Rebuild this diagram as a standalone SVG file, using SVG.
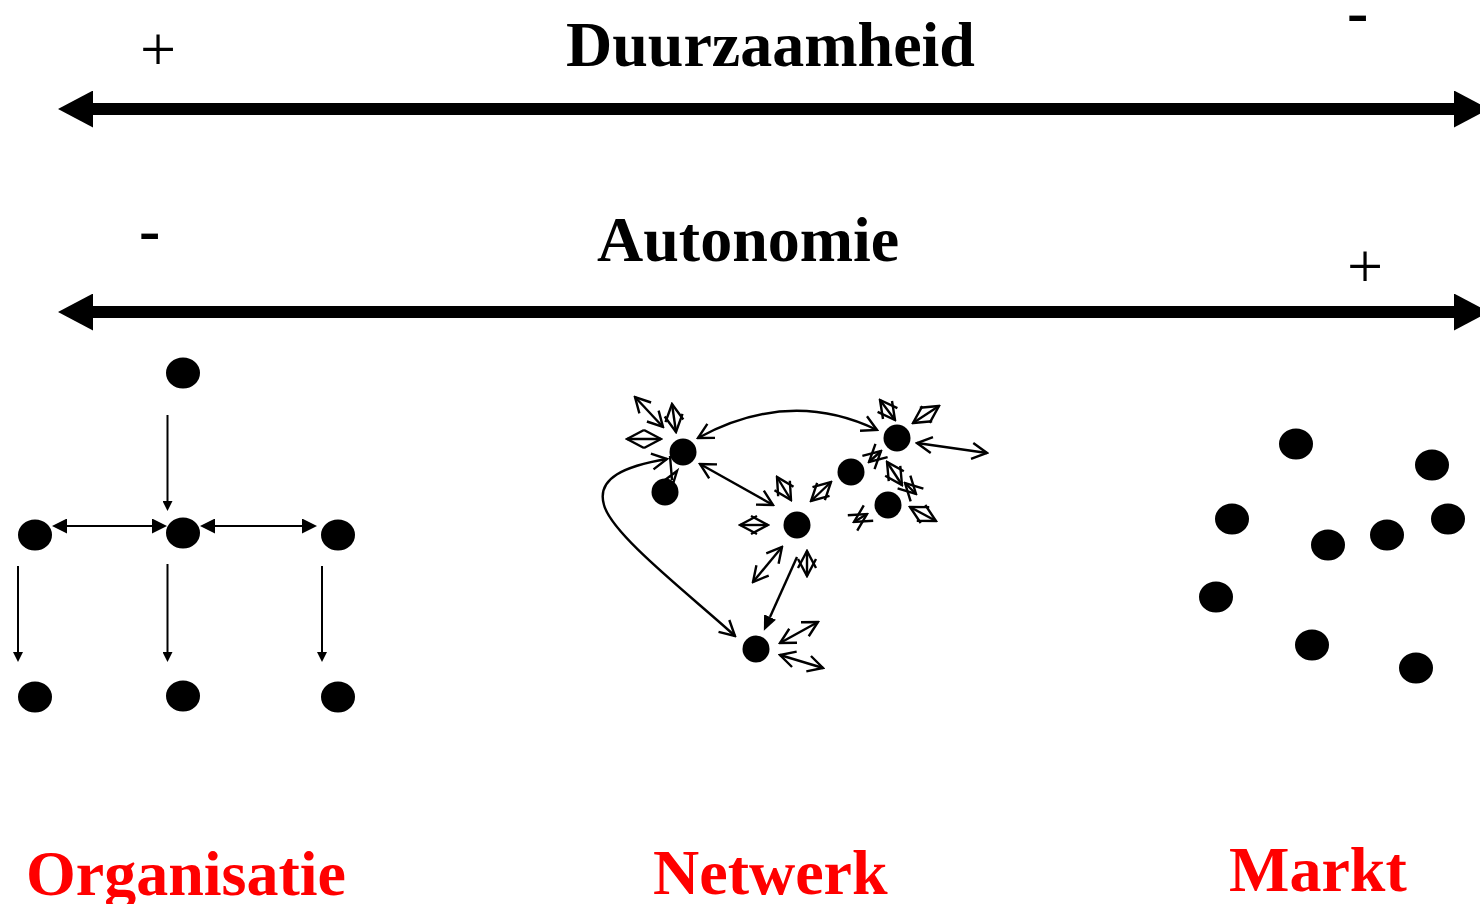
<svg xmlns="http://www.w3.org/2000/svg" width="1480" height="904" viewBox="0 0 1480 904">
<style>
.t{font-family:"Liberation Serif","Times New Roman",serif;font-size:64px;fill:#000}
.b{font-weight:bold}
.red{fill:#FF0000}
.nd{fill:#000}
.axis{stroke:#000;stroke-width:12;fill:none}
.oc{stroke:#000;stroke-width:2;fill:none}
.nc{stroke:#000;stroke-width:2.4;fill:none}
</style>
<defs>
<marker id="big" markerUnits="userSpaceOnUse" viewBox="0 0 35 37" markerWidth="35" markerHeight="37" refX="0" refY="18.5" orient="auto-start-reverse"><path d="M0,0 L35,18.5 L0,37 Z" fill="#000"/></marker>
<marker id="hh" markerUnits="userSpaceOnUse" viewBox="0 0 15 15" markerWidth="15" markerHeight="15" refX="0" refY="7.5" orient="auto-start-reverse"><path d="M0,0 L15,7.5 L0,15 Z" fill="#000"/></marker>
<marker id="vh" markerUnits="userSpaceOnUse" viewBox="0 0 10 10" markerWidth="10" markerHeight="10" refX="0" refY="5" orient="auto-start-reverse"><path d="M0,0 L10,5 L0,10 Z" fill="#000"/></marker>
<marker id="fn" markerUnits="userSpaceOnUse" viewBox="0 0 15 13" markerWidth="15" markerHeight="13" refX="0" refY="6.5" orient="auto-start-reverse"><path d="M0,0 L15,6.5 L0,13 Z" fill="#000"/></marker>
<marker id="ov" markerUnits="userSpaceOnUse" viewBox="-2 -2 19 20" markerWidth="19" markerHeight="20" refX="15" refY="8" orient="auto-start-reverse"><path d="M0,0 L15,8 L0,16" fill="none" stroke="#000" stroke-width="2.4"/></marker>
<marker id="od" markerUnits="userSpaceOnUse" viewBox="-2 -2 21 22" markerWidth="21" markerHeight="22" refX="17" refY="9" orient="auto-start-reverse"><path d="M0,0 L17,9 L0,18" fill="none" stroke="#000" stroke-width="2.4"/></marker>
</defs>
<rect width="1480" height="904" fill="#fff"/>

<g id="axes">
<line class="axis" x1="93" y1="109" x2="1454" y2="109" marker-start="url(#big)" marker-end="url(#big)"/>
<line class="axis" x1="93" y1="312" x2="1454" y2="312" marker-start="url(#big)" marker-end="url(#big)"/>
</g>

<g id="labels">
<text class="t b" x="566" y="66">Duurzaamheid</text>
<text class="t b" x="597" y="261">Autonomie</text>
<text class="t" x="140" y="71">+</text>
<text class="t b" x="139" y="251">-</text>
<text class="t b" x="1347" y="33">-</text>
<text class="t" x="1347" y="288">+</text>
<text class="t b red" x="26" y="895">Organisatie</text>
<text class="t b red" x="653" y="894">Netwerk</text>
<text class="t b red" x="1229" y="891">Markt</text>
</g>

<g id="organisatie">
<g id="org-top"><ellipse class="nd" cx="183" cy="373" rx="17" ry="15.5"/></g>
<g id="org-mid-left"><ellipse class="nd" cx="35" cy="535" rx="17" ry="15.5"/></g>
<g id="org-mid-center"><ellipse class="nd" cx="183" cy="533" rx="17" ry="15.5"/></g>
<g id="org-mid-right"><ellipse class="nd" cx="338" cy="535" rx="17" ry="15.5"/></g>
<g id="org-bot-left"><ellipse class="nd" cx="35" cy="697" rx="17" ry="15.5"/></g>
<g id="org-bot-center"><ellipse class="nd" cx="183" cy="696" rx="17" ry="15.5"/></g>
<g id="org-bot-right"><ellipse class="nd" cx="338" cy="697" rx="17" ry="15.5"/></g>
</g>

<g id="netwerk">
<g id="net-a"><circle class="nd" cx="683" cy="452" r="13.5"/></g>
<g id="net-b"><circle class="nd" cx="665" cy="492" r="13.5"/></g>
<g id="net-c"><circle class="nd" cx="797" cy="525" r="13.5"/></g>
<g id="net-d"><circle class="nd" cx="897" cy="438" r="13.5"/></g>
<g id="net-e"><circle class="nd" cx="851" cy="472" r="13.5"/></g>
<g id="net-f"><circle class="nd" cx="888" cy="505" r="13.5"/></g>
<g id="net-g"><circle class="nd" cx="756" cy="649" r="13.5"/></g>
</g>

<g id="markt">
<g id="m1"><ellipse class="nd" cx="1296" cy="444" rx="17" ry="15.5"/></g>
<g id="m2"><ellipse class="nd" cx="1432" cy="465" rx="17" ry="15.5"/></g>
<g id="m3"><ellipse class="nd" cx="1232" cy="519" rx="17" ry="15.5"/></g>
<g id="m4"><ellipse class="nd" cx="1328" cy="545" rx="17" ry="15.5"/></g>
<g id="m5"><ellipse class="nd" cx="1387" cy="535" rx="17" ry="15.5"/></g>
<g id="m6"><ellipse class="nd" cx="1448" cy="519" rx="17" ry="15.5"/></g>
<g id="m7"><ellipse class="nd" cx="1216" cy="597" rx="17" ry="15.5"/></g>
<g id="m8"><ellipse class="nd" cx="1312" cy="645" rx="17" ry="15.5"/></g>
<g id="m9"><ellipse class="nd" cx="1416" cy="668" rx="17" ry="15.5"/></g>
</g>

<g id="connectors">
<g id="org-connectors">
<line class="oc" x1="167.5" y1="415" x2="167.5" y2="501" marker-end="url(#vh)"/>
<line class="oc" x1="67" y1="526" x2="152" y2="526" marker-start="url(#hh)" marker-end="url(#hh)"/>
<line class="oc" x1="215" y1="526" x2="302" y2="526" marker-start="url(#hh)" marker-end="url(#hh)"/>
<line class="oc" x1="18" y1="566" x2="18" y2="652" marker-end="url(#vh)"/>
<line class="oc" x1="167.5" y1="564" x2="167.5" y2="652" marker-end="url(#vh)"/>
<line class="oc" x1="322" y1="566" x2="322" y2="652" marker-end="url(#vh)"/>
</g>
<g id="net-connectors">
<path class="nc" d="M698,438 Q790,388 877,430" marker-start="url(#ov)" marker-end="url(#ov)"/>
<line class="nc" x1="700" y1="464" x2="773" y2="505" marker-start="url(#ov)" marker-end="url(#ov)"/>
<path class="nc" d="M667,459 C625,466 596,478 604,505 C612,535 690,595 735,636" marker-start="url(#ov)" marker-end="url(#ov)"/>
<line class="nc" x1="797" y1="557" x2="770" y2="617" marker-end="url(#fn)"/>
<path class="nc" d="M670,456 L672,480 M661,483 L677,471 L673,484"/>
<line class="nc" x1="635" y1="397" x2="663" y2="427" marker-start="url(#ov)" marker-end="url(#ov)"/>
<line class="nc" x1="672" y1="404" x2="676" y2="432" marker-start="url(#od)" marker-end="url(#od)"/>
<line class="nc" x1="627" y1="439" x2="661" y2="439" marker-start="url(#od)" marker-end="url(#od)"/>
<line class="nc" x1="777" y1="477" x2="791" y2="500" marker-start="url(#od)" marker-end="url(#od)"/>
<line class="nc" x1="811" y1="501" x2="831" y2="482" marker-start="url(#od)" marker-end="url(#od)"/>
<line class="nc" x1="740" y1="525" x2="768" y2="525" marker-start="url(#od)" marker-end="url(#od)"/>
<line class="nc" x1="753" y1="582" x2="782" y2="547" marker-start="url(#ov)" marker-end="url(#ov)"/>
<line class="nc" x1="807" y1="551" x2="807" y2="576" marker-start="url(#od)" marker-end="url(#od)"/>
<line class="nc" x1="780" y1="643" x2="818" y2="622" marker-start="url(#ov)" marker-end="url(#ov)"/>
<line class="nc" x1="780" y1="655" x2="823" y2="668" marker-start="url(#ov)" marker-end="url(#ov)"/>
<line class="nc" x1="880" y1="400" x2="895" y2="420" marker-start="url(#od)" marker-end="url(#od)"/>
<line class="nc" x1="913" y1="423" x2="939" y2="406" marker-start="url(#od)" marker-end="url(#od)"/>
<line class="nc" x1="917" y1="443" x2="987" y2="453" marker-start="url(#ov)" marker-end="url(#ov)"/>
<line class="nc" x1="869" y1="462" x2="881" y2="451" marker-start="url(#od)" marker-end="url(#od)"/>
<line class="nc" x1="887" y1="462" x2="902" y2="485" marker-start="url(#od)" marker-end="url(#od)"/>
<line class="nc" x1="905" y1="483" x2="916" y2="494" marker-start="url(#od)" marker-end="url(#od)"/>
<line class="nc" x1="854" y1="522" x2="867" y2="514" marker-start="url(#od)" marker-end="url(#od)"/>
<line class="nc" x1="910" y1="507" x2="936" y2="521" marker-start="url(#od)" marker-end="url(#od)"/>
</g>
</g>
</svg>
